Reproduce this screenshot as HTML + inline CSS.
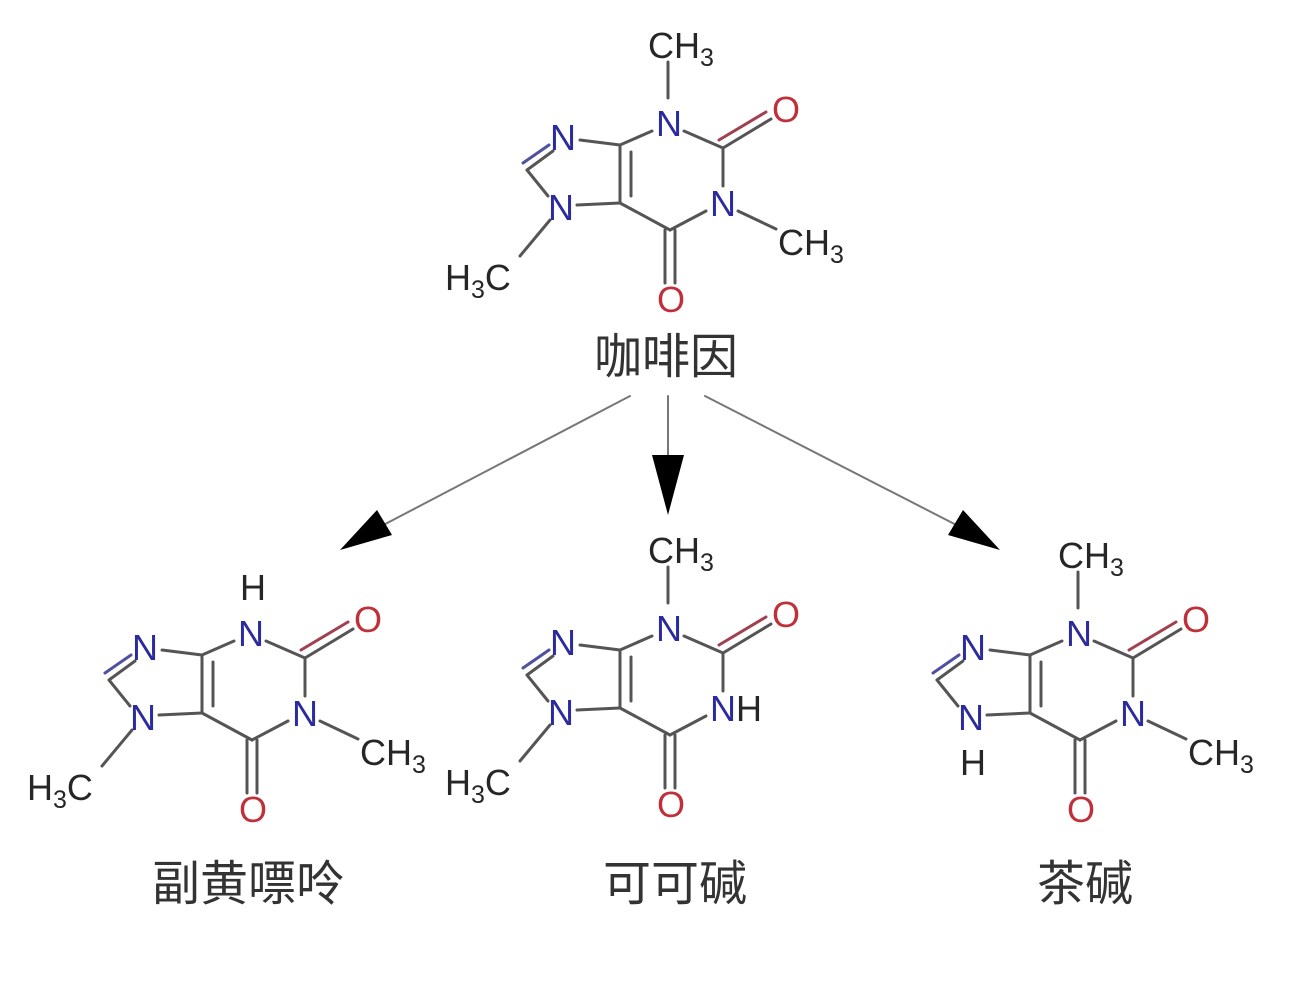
<!DOCTYPE html>
<html><head><meta charset="utf-8"><style>
html,body{margin:0;padding:0;background:#fff;width:1300px;height:1000px;overflow:hidden}
svg{display:block}
.a{font-family:"Liberation Sans",Arial,sans-serif;font-size:36px}
.n{fill:#2b2b9e}.o{fill:#c0303a}.k{fill:#262626}
.s{font-size:25px}
.cj{font-family:"Liberation Sans","Noto Sans CJK SC",sans-serif;font-size:48px;fill:#333}
line{stroke:#555;stroke-width:3;stroke-linecap:round}
</style></head><body>
<svg width="1300" height="1000" viewBox="0 0 1300 1000">
<!-- Top: caffeine -->
<g>
 <line x1="668" y1="62" x2="668" y2="98"/>
 <line x1="652" y1="131" x2="620" y2="145"/>
 <line x1="684" y1="131" x2="723" y2="148"/>
 <line x1="723" y1="148" x2="771" y2="119"/>
 <line x1="719" y1="140" x2="766" y2="112" style="stroke:#a04050"/>
 <line x1="723" y1="148" x2="723" y2="186"/>
 <line x1="738" y1="211" x2="776" y2="229"/>
 <line x1="706" y1="211" x2="670" y2="230"/>
 <line x1="665" y1="230" x2="665" y2="283"/>
 <line x1="675" y1="230" x2="675" y2="283"/>
 <line x1="670" y1="230" x2="620" y2="203"/>
 <line x1="620" y1="203" x2="620" y2="145"/>
 <line x1="631" y1="196" x2="631" y2="152"/>
 <line x1="620" y1="145" x2="580" y2="140"/>
 <line x1="553" y1="151" x2="527" y2="170"/>
 <line x1="549" y1="145" x2="523" y2="163" style="stroke:#5050a0"/>
 <line x1="527" y1="170" x2="548" y2="196"/>
 <line x1="577" y1="205" x2="620" y2="203"/>
 <line x1="550" y1="220" x2="520" y2="256"/>
 <text class="a k" x="648" y="58">CH<tspan class="s" dy="8">3</tspan></text>
 <text class="a n" x="656" y="136">N</text>
 <text class="a o" x="772" y="122">O</text>
 <text class="a n" x="710" y="216">N</text>
 <text class="a k" x="778" y="255">CH<tspan class="s" dy="8">3</tspan></text>
 <text class="a o" x="657" y="312">O</text>
 <text class="a n" x="550" y="150">N</text>
 <text class="a n" x="548" y="220">N</text>
 <text class="a k" x="445" y="290">H<tspan class="s" dy="8">3</tspan><tspan dy="-8">C</tspan></text>
</g>
<text class="cj" x="666" y="373" text-anchor="middle">咖啡因</text>

<!-- arrows -->
<line x1="630" y1="396" x2="370" y2="532" style="stroke:#777;stroke-width:2"/>
<polygon points="340,550 377,510 392,535" fill="#000"/>
<line x1="668" y1="396" x2="668" y2="460" style="stroke:#777;stroke-width:2"/>
<polygon points="652,455 684,455 668,515" fill="#000"/>
<line x1="705" y1="396" x2="970" y2="532" style="stroke:#777;stroke-width:2"/>
<polygon points="1000,550 963,510 948,535" fill="#000"/>

<!-- Left: paraxanthine -->
<g transform="translate(-418,510)">
 <line x1="652" y1="131" x2="620" y2="145"/>
 <line x1="684" y1="131" x2="723" y2="148"/>
 <line x1="723" y1="148" x2="771" y2="119"/>
 <line x1="719" y1="140" x2="766" y2="112" style="stroke:#a04050"/>
 <line x1="723" y1="148" x2="723" y2="186"/>
 <line x1="738" y1="211" x2="776" y2="229"/>
 <line x1="706" y1="211" x2="670" y2="230"/>
 <line x1="665" y1="230" x2="665" y2="283"/>
 <line x1="675" y1="230" x2="675" y2="283"/>
 <line x1="670" y1="230" x2="620" y2="203"/>
 <line x1="620" y1="203" x2="620" y2="145"/>
 <line x1="631" y1="196" x2="631" y2="152"/>
 <line x1="620" y1="145" x2="580" y2="140"/>
 <line x1="553" y1="151" x2="527" y2="170"/>
 <line x1="549" y1="145" x2="523" y2="163" style="stroke:#5050a0"/>
 <line x1="527" y1="170" x2="548" y2="196"/>
 <line x1="577" y1="205" x2="620" y2="203"/>
 <line x1="550" y1="220" x2="520" y2="256"/>
 <text class="a k" x="658" y="90">H</text>
 <text class="a n" x="656" y="136">N</text>
 <text class="a o" x="772" y="122">O</text>
 <text class="a n" x="710" y="216">N</text>
 <text class="a k" x="778" y="255">CH<tspan class="s" dy="8">3</tspan></text>
 <text class="a o" x="657" y="312">O</text>
 <text class="a n" x="550" y="150">N</text>
 <text class="a n" x="548" y="220">N</text>
 <text class="a k" x="445" y="290">H<tspan class="s" dy="8">3</tspan><tspan dy="-8">C</tspan></text>
</g>
<text class="cj" x="248" y="900" text-anchor="middle">副黄嘌呤</text>

<!-- Middle: theobromine -->
<g transform="translate(0,505)">
 <line x1="668" y1="62" x2="668" y2="98"/>
 <line x1="652" y1="131" x2="620" y2="145"/>
 <line x1="684" y1="131" x2="723" y2="148"/>
 <line x1="723" y1="148" x2="771" y2="119"/>
 <line x1="719" y1="140" x2="766" y2="112" style="stroke:#a04050"/>
 <line x1="723" y1="148" x2="723" y2="186"/>
 <line x1="706" y1="211" x2="670" y2="230"/>
 <line x1="665" y1="230" x2="665" y2="283"/>
 <line x1="675" y1="230" x2="675" y2="283"/>
 <line x1="670" y1="230" x2="620" y2="203"/>
 <line x1="620" y1="203" x2="620" y2="145"/>
 <line x1="631" y1="196" x2="631" y2="152"/>
 <line x1="620" y1="145" x2="580" y2="140"/>
 <line x1="553" y1="151" x2="527" y2="170"/>
 <line x1="549" y1="145" x2="523" y2="163" style="stroke:#5050a0"/>
 <line x1="527" y1="170" x2="548" y2="196"/>
 <line x1="577" y1="205" x2="620" y2="203"/>
 <line x1="550" y1="220" x2="520" y2="256"/>
 <text class="a k" x="648" y="58">CH<tspan class="s" dy="8">3</tspan></text>
 <text class="a n" x="656" y="136">N</text>
 <text class="a o" x="772" y="122">O</text>
 <text class="a n" x="710" y="216">N<tspan class="k">H</tspan></text>
 <text class="a o" x="657" y="312">O</text>
 <text class="a n" x="550" y="150">N</text>
 <text class="a n" x="548" y="220">N</text>
 <text class="a k" x="445" y="290">H<tspan class="s" dy="8">3</tspan><tspan dy="-8">C</tspan></text>
</g>
<text class="cj" x="675" y="900" text-anchor="middle">可可碱</text>

<!-- Right: theophylline -->
<g transform="translate(410,510)">
 <line x1="668" y1="62" x2="668" y2="98"/>
 <line x1="652" y1="131" x2="620" y2="145"/>
 <line x1="684" y1="131" x2="723" y2="148"/>
 <line x1="723" y1="148" x2="771" y2="119"/>
 <line x1="719" y1="140" x2="766" y2="112" style="stroke:#a04050"/>
 <line x1="723" y1="148" x2="723" y2="186"/>
 <line x1="738" y1="211" x2="776" y2="229"/>
 <line x1="706" y1="211" x2="670" y2="230"/>
 <line x1="665" y1="230" x2="665" y2="283"/>
 <line x1="675" y1="230" x2="675" y2="283"/>
 <line x1="670" y1="230" x2="620" y2="203"/>
 <line x1="620" y1="203" x2="620" y2="145"/>
 <line x1="631" y1="196" x2="631" y2="152"/>
 <line x1="620" y1="145" x2="580" y2="140"/>
 <line x1="553" y1="151" x2="527" y2="170"/>
 <line x1="549" y1="145" x2="523" y2="163" style="stroke:#5050a0"/>
 <line x1="527" y1="170" x2="548" y2="196"/>
 <line x1="577" y1="205" x2="620" y2="203"/>
 <text class="a k" x="648" y="58">CH<tspan class="s" dy="8">3</tspan></text>
 <text class="a n" x="656" y="136">N</text>
 <text class="a o" x="772" y="122">O</text>
 <text class="a n" x="710" y="216">N</text>
 <text class="a k" x="778" y="255">CH<tspan class="s" dy="8">3</tspan></text>
 <text class="a o" x="657" y="312">O</text>
 <text class="a n" x="550" y="150">N</text>
 <text class="a n" x="548" y="220">N</text>
 <text class="a k" x="550" y="265">H</text>
</g>
<text class="cj" x="1085" y="900" text-anchor="middle">茶碱</text>
</svg>
</body></html>
